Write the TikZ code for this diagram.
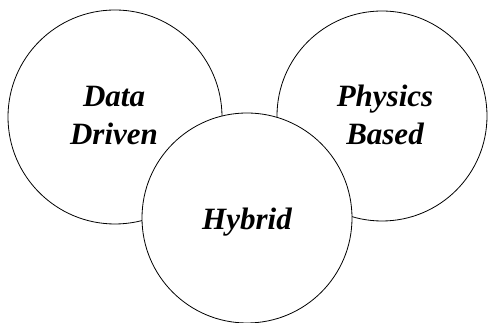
\documentclass[tikz,border=0pt]{standalone}
\usepackage{fontspec}
\setmainfont{Liberation Serif}
\begin{document}
\begin{tikzpicture}[x=1pt,y=1pt,
  ring/.style={circle,draw=black,line width=0.8pt,fill=white,inner sep=0pt},
  lbl/.style={font=\fontsize{31}{38}\selectfont\bfseries\itshape,anchor=base,inner sep=0pt}]
\useasboundingbox (0,0) rectangle (488,323);
\node[ring,minimum size=214pt] (dd) at (115,206) {};
\node[ring,minimum size=210pt] (pb) at (382,207) {};
\node[lbl] (t1) at (114,216) {Data};
\node[lbl] (t2) at (114,178) {Driven};
\node[lbl] (t3) at (385,216) {Physics};
\node[lbl] (t4) at (385,178) {Based};
\node[ring,minimum size=210pt] (hy) at (247,105) {};
\node[lbl] (t5) at (247,93) {Hybrid};
\end{tikzpicture}
\end{document}
